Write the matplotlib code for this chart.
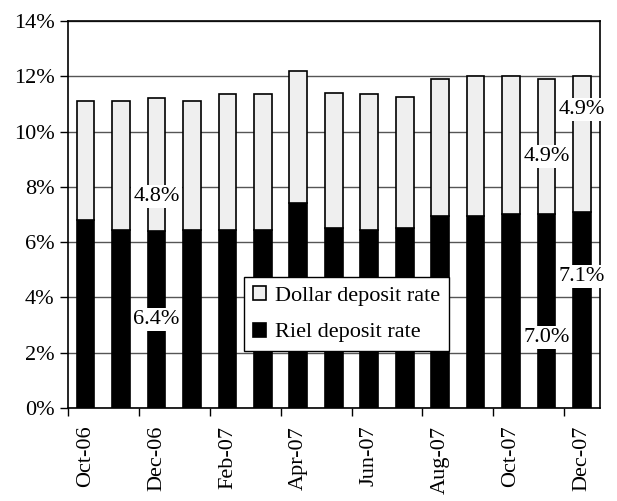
import matplotlib
matplotlib.use("Agg")
import matplotlib.pyplot as plt
import numpy as np

plt.rcParams["font.family"] = ["Liberation Serif", "DejaVu Serif"]

# monthly deposit rates (%), Oct-06 .. Dec-07
months = ["Oct-06", "Nov-06", "Dec-06", "Jan-07", "Feb-07", "Mar-07", "Apr-07", "May-07",
          "Jun-07", "Jul-07", "Aug-07", "Sep-07", "Oct-07", "Nov-07", "Dec-07"]
riel_rate = [6.8, 6.45, 6.4, 6.45, 6.45, 6.45, 7.4, 6.5, 6.45, 6.5, 6.95, 6.95, 7.0, 7.0, 7.1]
dollar_rate = [4.3, 4.65, 4.8, 4.65, 4.9, 4.9, 4.8, 4.9, 4.9, 4.75, 4.95, 5.05, 5.0, 4.9, 4.9]

# annotated bars: (index, label y position)
riel_notes = [(2, 3.2), (13, 2.55), (14, 4.75)]
dollar_notes = [(2, 7.65), (13, 9.1), (14, 10.8)]

fig = plt.figure(figsize=(6.17, 5.01), dpi=100)
ax = fig.add_axes([0.110, 0.186, 0.862, 0.772])

x = np.arange(len(months))
ax.bar(x, riel_rate, width=0.5, color="black", edgecolor="black", linewidth=1.2,
       label="Riel deposit rate", zorder=3)
ax.bar(x, dollar_rate, width=0.5, bottom=riel_rate, color="#efefef", edgecolor="black",
       linewidth=1.2, label="Dollar deposit rate", zorder=3)

box = dict(facecolor="white", edgecolor="none", pad=1.5)
for i, y in riel_notes:
    ax.text(x[i], y, f"{riel_rate[i]:.1f}%", ha="center", va="center", fontsize=16,
            bbox=box, zorder=5, clip_on=False)
for i, y in dollar_notes:
    ax.text(x[i], y, f"{dollar_rate[i]:.1f}%", ha="center", va="center", fontsize=16,
            bbox=box, zorder=5, clip_on=False)

ax.set_ylim(0, 14)
ax.set_yticks(np.arange(0, 15, 2))
ax.set_yticklabels([f"{v}%" for v in range(0, 15, 2)], fontsize=16)
ax.yaxis.grid(True, color="#555555", linewidth=1.0, zorder=0)
ax.set_axisbelow(True)

ax.set_xlim(-0.5, len(months) - 0.5)
ax.set_xticks(np.arange(-0.5, len(months) - 1, 2))
ax.set_xticklabels([])
ax.set_xticks(x[::2], minor=True)
ax.set_xticklabels(months[::2], minor=True, rotation=90, fontsize=16)
ax.tick_params(axis="x", which="major", length=6, width=1, direction="out")
ax.tick_params(axis="x", which="minor", length=0, pad=13)
ax.tick_params(axis="y", length=6, width=1, direction="out")
for s in ax.spines.values():
    s.set_linewidth(1.2)

handles, labels = ax.get_legend_handles_labels()
leg = ax.legend(handles[::-1], labels[::-1], loc="upper left", bbox_to_anchor=(0.331, 0.338),
                borderaxespad=0, fontsize=16, frameon=True, fancybox=False, edgecolor="black",
                handlelength=0.6, handleheight=0.6, handletextpad=0.4, borderpad=0.4,
                labelspacing=0.75, framealpha=1)
leg.get_frame().set_linewidth(1.0)
leg.set_zorder(6)

fig.savefig("out.png", dpi=100)
